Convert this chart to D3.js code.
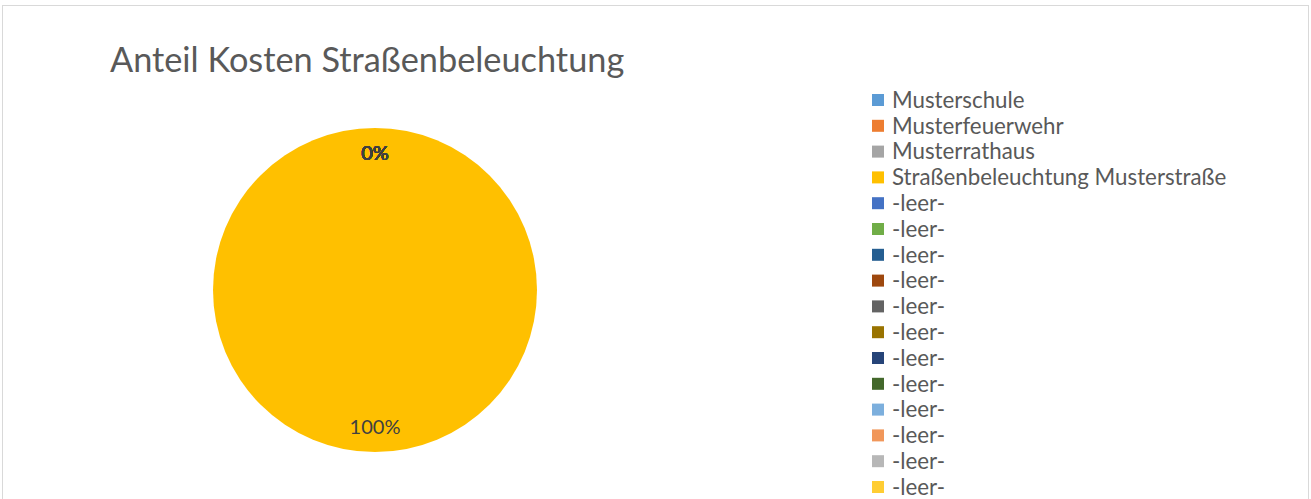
<!DOCTYPE html>
<html><head><meta charset="utf-8">
<script src="https://cdn.jsdelivr.net/npm/d3@7"></script>
<style>html,body{margin:0;padding:0;background:#fff;overflow:hidden}</style>
</head><body>
<svg id="c" width="1311" height="499"></svg>
<script>
const title = "Anteil Kosten Straßenbeleuchtung";
const categories = ["Musterschule","Musterfeuerwehr","Musterrathaus","Straßenbeleuchtung Musterstraße",
  "-leer-","-leer-","-leer-","-leer-","-leer-","-leer-","-leer-","-leer-","-leer-","-leer-","-leer-","-leer-"];
const values = [0,0,0,1,0,0,0,0,0,0,0,0,0,0,0,0];
const colors = ["#5B9BD5","#ED7D31","#A5A5A5","#FFC000","#4472C4","#70AD47","#255E91","#9E480E",
  "#636363","#997300","#264478","#43682B","#7CAFDD","#F1975A","#B7B7B7","#FFCD33"];

const svg = d3.select("#c");
const W = 1311, H = 499;
const font = "Lato, 'Open Sans', sans-serif";

svg.append("rect").attr("x",2.5).attr("y",5.5).attr("width",1306).attr("height",H)
  .attr("fill","#fff").attr("stroke","#D9D9D9").attr("stroke-width",1);

svg.append("text").attr("x",110).attr("y",72).text(title)
  .attr("font-family",font).attr("font-size",34.3).attr("fill","#595959");

const cx = 375, cy = 290, R = 162;
const total = d3.sum(values);
const pie = d3.pie().sort(null).value(d=>d)(values);
const arc = d3.arc().innerRadius(0).outerRadius(R);
const g = svg.append("g").attr("transform",`translate(${cx},${cy})`);
g.selectAll("path").data(pie).join("path")
  .attr("d",arc).attr("fill",(d,i)=>colors[i]);

const labelArc = d3.arc().innerRadius(137).outerRadius(137);
g.selectAll("text.lbl").data(pie).join("text").attr("class","lbl")
  .attr("transform",d=>`translate(${labelArc.centroid(d)})`)
  .attr("text-anchor","middle").attr("dy","0.35em")
  .attr("font-family",font).attr("font-size",20).attr("fill","#404040")
  .text(d=>d3.format(".0%")(d.value/total));

const legend = svg.append("g");
const ly = d3.scaleLinear().domain([0,1]).range([100,125.8]);
const items = legend.selectAll("g").data(categories).join("g")
  .attr("transform",(d,i)=>`translate(872,${ly(i)})`);
items.append("rect").attr("x",0).attr("y",-6).attr("width",12).attr("height",12)
  .attr("fill",(d,i)=>colors[i]);
items.append("text").attr("x",20).attr("y",0).attr("dy","0.35em")
  .attr("font-family",font).attr("font-size",22.3).attr("fill","#595959").text(d=>d);
</script>
</body></html>
